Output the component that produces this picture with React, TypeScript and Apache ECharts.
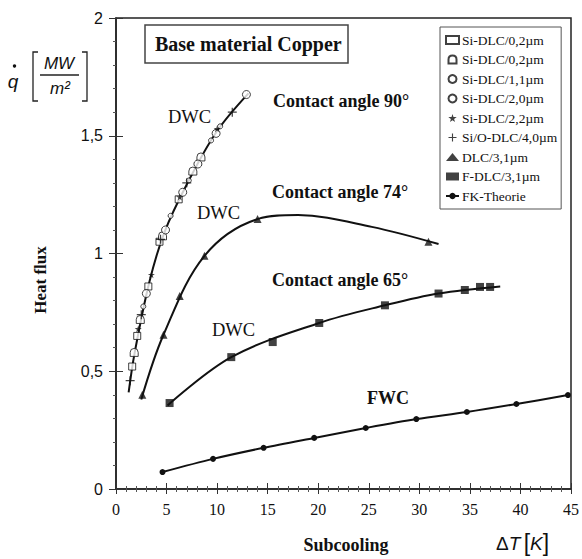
import React, { useEffect, useRef } from "react";
import * as echarts from "echarts";

// ---- data ----
const sqSi02 = [[1.6, 0.52], [2.1, 0.65], [3.2, 0.86], [4.3, 1.05], [6.2, 1.23]];
const triSi02 = [[1.8, 0.58], [2.4, 0.72], [4.6, 1.075], [7.6, 1.35], [8.4, 1.41]];
const circSi11 = [[2.7, 0.775], [5.4, 1.16], [7.2, 1.31], [9.4, 1.48], [10.3, 1.54]];
const circSi20 = [[3.0, 0.83], [4.9, 1.1], [6.6, 1.26], [8.1, 1.38], [9.9, 1.51], [12.9, 1.675]];
const starSi22 = [[2.2, 0.68], [3.5, 0.91], [6.3, 1.24], [10.0, 1.53]];
const plusSiO40 = [[1.4, 0.46], [2.5, 0.74], [4.4, 1.06], [7.0, 1.3], [11.5, 1.6]];
const triDLC31 = [[2.6, 0.4], [4.7, 0.655], [6.3, 0.82], [8.75, 0.99], [14.0, 1.146], [30.9, 1.05]];
const sqFDLC31 = [[5.3, 0.365], [11.4, 0.56], [15.5, 0.624], [20.1, 0.705], [26.6, 0.78], [31.9, 0.83], [34.5, 0.845], [36.0, 0.858], [37.0, 0.858]];
const fkTheorie = [[4.6, 0.072], [9.6, 0.128], [14.6, 0.175], [19.6, 0.217], [24.7, 0.259], [29.7, 0.297], [34.7, 0.327], [39.6, 0.361], [44.7, 0.399]];

// fitted DWC curves
const curve90 = [[1.25, 0.41], [1.84, 0.577], [3.3, 0.879], [4.8, 1.091], [6.97, 1.291], [9.93, 1.516], [13.1, 1.68]];
const curve74 = [[2.5, 0.38], [4.7, 0.655], [8.75, 0.99], [14.0, 1.146], [18.0, 1.163], [25.3, 1.113], [31.9, 1.04]];
const curve65 = [[5.1, 0.355], [11.4, 0.56], [20.1, 0.705], [26.6, 0.78], [31.9, 0.83], [38.0, 0.86]];

const legendNames = ["s1", "s2", "s3", "s4", "s5", "s6", "s7", "s8", "s9"];
const legendLabels: Record<string, string> = {
  s1: "Si-DLC/0,2µm",
  s2: "Si-DLC/0,2µm",
  s3: "Si-DLC/1,1µm",
  s4: "Si-DLC/2,0µm",
  s5: "Si-DLC/2,2µm",
  s6: "Si/O-DLC/4,0µm",
  s7: "DLC/3,1µm",
  s8: "F-DLC/3,1µm",
  s9: "FK-Theorie",
};

const STAR = "path://M50,0 L61,35 L98,35 L68,57 L79,91 L50,70 L21,91 L32,57 L2,35 L39,35 Z";
const PLUS = "path://M4.3,0 H5.7 V4.3 H10 V5.7 H5.7 V10 H4.3 V5.7 H0 V4.3 H4.3 Z";
const DOME = "path://M0,10 L0,5 Q0,0 5,0 Q10,0 10,5 L10,10 Z";

const SERIF = '"Liberation Serif", "Times New Roman", serif';
const SANS = '"Liberation Sans", Arial, sans-serif';

function openScatter(name: string, data: number[][], symbol: string, size: number) {
  return {
    name,
    type: "scatter",
    data,
    symbol,
    symbolSize: size,
    itemStyle: { color: "#fff", borderColor: "#111", borderWidth: 1 },
    z: 5,
  };
}

function curve(data: number[][]) {
  return {
    type: "line",
    data,
    smooth: 0.35,
    showSymbol: false,
    symbol: "none",
    lineStyle: { color: "#111", width: 2 },
    z: 3,
    silent: true,
  };
}

function label(text: string, x: number, y: number, font: string, align = "left") {
  return {
    type: "text",
    x,
    y,
    z: 11,
    style: { text, font, fill: "#111", textAlign: align, textVerticalAlign: "middle" },
  };
}

export default function App() {
  const ref = useRef<HTMLDivElement>(null);
  useEffect(() => {
    if (!ref.current) return;
    const chart = echarts.init(ref.current, null, { renderer: "svg" });
    const axisCommon = {
      type: "value",
      min: 0,
    };
    chart.setOption({
      animation: false,
      backgroundColor: "#fff",
      grid: {
        left: 116,
        right: 9,
        top: 18,
        bottom: 70,
        show: true,
        borderColor: "#222",
        borderWidth: 1.5,
        backgroundColor: "transparent",
      },
      xAxis: [
        {
          ...axisCommon,
          max: 45,
          interval: 5,
          position: "bottom",
          axisLine: { show: true, lineStyle: { color: "#222", width: 1.5 } },
          axisTick: { show: true, inside: false, length: 5, lineStyle: { color: "#333" } },
          minorTick: { show: true, splitNumber: 5, length: 3, lineStyle: { color: "#555" } },
          splitLine: { show: false },
          axisLabel: { color: "#111", fontFamily: SERIF, fontSize: 16, margin: 12 },
        },
        {
          ...axisCommon,
          max: 45,
          interval: 5,
          position: "bottom",
          axisLine: { show: false },
          axisTick: { show: true, inside: true, length: 6, lineStyle: { color: "#333" } },
          minorTick: { show: true, inside: true, splitNumber: 5, length: 3, lineStyle: { color: "#555" } },
          splitLine: { show: false },
          axisLabel: { show: false },
        },
      ],
      yAxis: [
        {
          ...axisCommon,
          max: 2,
          interval: 0.5,
          position: "left",
          axisLine: { show: true, lineStyle: { color: "#222", width: 1.5 } },
          axisTick: { show: true, inside: false, length: 7, lineStyle: { color: "#333" } },
          minorTick: { show: true, splitNumber: 5, length: 3, lineStyle: { color: "#555" } },
          splitLine: { show: false },
          axisLabel: {
            color: "#111",
            fontFamily: SANS,
            fontSize: 16,
            margin: 13,
            formatter: (v: number) => String(v).replace(".", ","),
          },
        },
        {
          ...axisCommon,
          max: 2,
          interval: 0.5,
          position: "left",
          axisLine: { show: false },
          axisTick: { show: true, inside: true, length: 7, lineStyle: { color: "#333" } },
          minorTick: { show: false },
          splitLine: { show: false },
          axisLabel: { show: false },
        },
      ],
      legend: {
        data: legendNames,
        orient: "vertical",
        left: 440,
        top: 27,
        width: 122,
        padding: [6, 4, 6, 5],
        itemGap: 5.5,
        itemWidth: 13,
        itemHeight: 8,
        borderColor: "#555",
        borderWidth: 1,
        backgroundColor: "#fff",
        selectedMode: false,
        formatter: (n: string) => legendLabels[n] || n,
        textStyle: { fontFamily: SERIF, fontSize: 13.5, color: "#111", lineHeight: 14, padding: [0, 0, 0, -2] },
      },
      series: [
        curve(curve90),
        curve(curve74),
        curve(curve65),
        openScatter("s1", sqSi02, "rect", 7),
        openScatter("s2", triSi02, DOME, 8),
        openScatter("s3", circSi11, "circle", 5),
        openScatter("s4", circSi20, "circle", 8),
        {
          name: "s5",
          type: "scatter",
          data: starSi22,
          symbol: STAR,
          symbolSize: 7,
          itemStyle: { color: "#111" },
          z: 5,
        },
        {
          name: "s6",
          type: "scatter",
          data: plusSiO40,
          symbol: PLUS,
          symbolSize: 9,
          itemStyle: { color: "#111" },
          z: 5,
        },
        {
          name: "s7",
          type: "scatter",
          data: triDLC31,
          symbol: "triangle",
          symbolSize: 8,
          itemStyle: { color: "#111" },
          z: 5,
        },
        {
          name: "s8",
          type: "scatter",
          data: sqFDLC31,
          symbol: "rect",
          symbolSize: 8,
          itemStyle: { color: "#111" },
          z: 5,
        },
        {
          name: "s9",
          type: "line",
          data: fkTheorie,
          smooth: 0.3,
          symbol: "circle",
          symbolSize: 6,
          showSymbol: true,
          itemStyle: { color: "#111" },
          lineStyle: { color: "#111", width: 2 },
          z: 4,
        },
      ],
      graphic: [
        // Base material box
        {
          type: "rect",
          shape: { x: 145, y: 25, width: 203, height: 38 },
          style: { fill: "#fff", stroke: "#444", lineWidth: 1.5 },
          z: 10,
        },
        label("Base material Copper", 155, 44, `bold 20px ${SERIF}`),
        // contact angle labels
        label("Contact angle 90°", 273, 101, `bold 18px ${SERIF}`),
        label("Contact angle 74°", 272, 192, `bold 18px ${SERIF}`),
        label("Contact angle 65°", 272, 280, `bold 18px ${SERIF}`),
        // DWC / FWC
        label("DWC", 168, 117, `18.5px ${SERIF}`),
        label("DWC", 197, 213, `18.5px ${SERIF}`),
        label("DWC", 212, 330, `18.5px ${SERIF}`),
        label("FWC", 367, 398, `bold 18px ${SERIF}`),
        // y-axis title
        {
          type: "text", x: 40, y: 280, rotation: Math.PI / 2, z: 11,
          style: { text: "Heat flux", font: `bold 17px ${SERIF}`, fill: "#111", textAlign: "center", textVerticalAlign: "middle" },
        },
        label("q", 13, 81, `italic 19px ${SANS}`, "center"),
        { type: "circle", shape: { cx: 14.5, cy: 66, r: 1.7 }, style: { fill: "#111" }, z: 11 },
        {
          type: "polyline", z: 11,
          shape: { points: [[38, 52], [33, 52], [33, 101], [38, 101]] },
          style: { stroke: "#222", lineWidth: 1.3, fill: null },
        },
        {
          type: "polyline", z: 11,
          shape: { points: [[82, 52], [87, 52], [87, 101], [82, 101]] },
          style: { stroke: "#222", lineWidth: 1.3, fill: null },
        },
        { type: "line", z: 11, shape: { x1: 40, y1: 75, x2: 79, y2: 75 }, style: { stroke: "#222", lineWidth: 1.3 } },
        label("MW", 59, 63, `italic 17px ${SANS}`, "center"),
        label("m²", 60, 88, `italic 17px ${SANS}`, "center"),
        // x-axis title
        label("Subcooling", 346, 545, `bold 18px ${SERIF}`, "center"),
        {
          type: "text", x: 496, y: 543, z: 11,
          style: {
            text: "{a|Δ}{i|T} {b|[}{i|K}{b|]}",
            textAlign: "left",
            textVerticalAlign: "middle",
            fill: "#111",
            rich: {
              a: { font: `19px ${SANS}`, fill: "#111" },
              i: { font: `italic 19px ${SANS}`, fill: "#111" },
              b: { font: `23px ${SANS}`, fill: "#111" },
            },
          },
        },
      ],
    });
    return () => chart.dispose();
  }, []);
  return (
    <div
      ref={ref}
      style={{ position: "fixed", left: 0, top: 0, width: 582, height: 559 }}
    />
  );
}
